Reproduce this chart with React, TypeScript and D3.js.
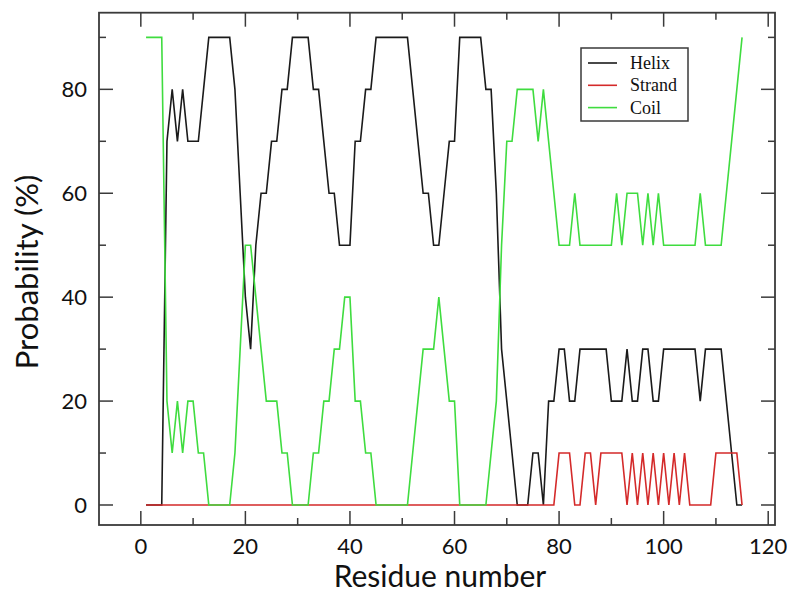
import React from "react";
import * as d3 from "d3";

const residues: number[] = d3.range(1, 116);

const helix: number[] = [
  0, 0, 0, 0, 70, 80, 70, 80, 70, 70, 70, 80, 90, 90, 90, 90, 90, 80, 60, 40,
  30, 50, 60, 60, 70, 70, 80, 80, 90, 90, 90, 90, 80, 80, 70, 60, 60, 50, 50, 50,
  70, 70, 80, 80, 90, 90, 90, 90, 90, 90, 90, 80, 70, 60, 60, 50, 50, 60, 70, 70,
  90, 90, 90, 90, 90, 80, 80, 60, 30, 20, 10, 0, 0, 0, 10, 10, 0, 20, 20, 30,
  30, 20, 20, 30, 30, 30, 30, 30, 30, 20, 20, 20, 30, 20, 20, 30, 30, 20, 20, 30,
  30, 30, 30, 30, 30, 30, 20, 30, 30, 30, 30, 20, 10, 0, 0,
];

const strand: number[] = [
  0, 0, 0, 0, 0, 0, 0, 0, 0, 0, 0, 0, 0, 0, 0, 0, 0, 0, 0, 0,
  0, 0, 0, 0, 0, 0, 0, 0, 0, 0, 0, 0, 0, 0, 0, 0, 0, 0, 0, 0,
  0, 0, 0, 0, 0, 0, 0, 0, 0, 0, 0, 0, 0, 0, 0, 0, 0, 0, 0, 0,
  0, 0, 0, 0, 0, 0, 0, 0, 0, 0, 0, 0, 0, 0, 0, 0, 0, 0, 0, 10,
  10, 10, 0, 0, 10, 10, 0, 10, 10, 10, 10, 10, 0, 10, 0, 10, 0, 10, 0, 10,
  0, 10, 0, 10, 0, 0, 0, 0, 0, 10, 10, 10, 10, 10, 0,
];

const coil: number[] = [
  90, 90, 90, 90, 20, 10, 20, 10, 20, 20, 10, 10, 0, 0, 0, 0, 0, 10, 30, 50,
  50, 40, 30, 20, 20, 20, 10, 10, 0, 0, 0, 0, 10, 10, 20, 20, 30, 30, 40, 40,
  20, 20, 10, 10, 0, 0, 0, 0, 0, 0, 0, 10, 20, 30, 30, 30, 40, 30, 20, 20,
  0, 0, 0, 0, 0, 0, 10, 20, 50, 70, 70, 80, 80, 80, 80, 70, 80, 70, 60, 50,
  50, 50, 60, 50, 50, 50, 50, 50, 50, 50, 60, 50, 60, 60, 60, 50, 60, 50, 60, 50,
  50, 50, 50, 50, 50, 50, 60, 50, 50, 50, 50, 60, 70, 80, 90,
];

const seriesNames: string[] = ["Helix", "Strand", "Coil"];
const seriesColors: string[] = ["#1a1a1a", "#d42a2a", "#3fdc3f"];

const xMajor: number[] = [0, 20, 40, 60, 80, 100, 120];
const xMinor: number[] = [10, 30, 50, 70, 90, 110];
const yMajor: number[] = [0, 20, 40, 60, 80];
const yMinor: number[] = [10, 30, 50, 70, 90];

const W = 787;
const H = 593;
const L = 99;
const R = 775;
const T = 12.7;
const B = 525;

export default function App() {
  const x = d3.scaleLinear().domain([-8, 121.3]).range([L, R]);
  const y = d3.scaleLinear().domain([-3.85, 94.75]).range([B, T]);
  const series = [helix, strand, coil];
  const line = d3
    .line<number>()
    .x((_, i) => x(residues[i]))
    .y((v) => y(v));

  const frame = "#3a3a3a";
  const sans = "Lato, 'Open Sans', sans-serif";
  const majorLen = 14;
  const minorLen = 7;

  return (
    <svg width={W} height={H} style={{ position: "absolute", left: 0, top: 0, background: "#fff" }}>
      <rect x={0} y={0} width={W} height={H} fill="#fff" />
      {[0, 1, 2].map((k) => (
        <path
          key={seriesNames[k]}
          d={line(series[k]) || ""}
          fill="none"
          stroke={seriesColors[k]}
          strokeWidth={1.6}
          strokeLinejoin="miter"
        />
      ))}
      <rect x={L} y={T} width={R - L} height={B - T} fill="none" stroke={frame} strokeWidth={1.8} />
      {xMajor.map((v) => (
        <g key={"xM" + v}>
          <line x1={x(v)} x2={x(v)} y1={B} y2={B - majorLen} stroke={frame} strokeWidth={1.5} />
          <line x1={x(v)} x2={x(v)} y1={T} y2={T + majorLen} stroke={frame} strokeWidth={1.5} />
          <text x={x(v)} y={554} textAnchor="middle" fontFamily={sans} fontSize={22} fill="#111">
            {v}
          </text>
        </g>
      ))}
      {xMinor.map((v) => (
        <g key={"xm" + v}>
          <line x1={x(v)} x2={x(v)} y1={B} y2={B - minorLen} stroke={frame} strokeWidth={1.5} />
          <line x1={x(v)} x2={x(v)} y1={T} y2={T + minorLen} stroke={frame} strokeWidth={1.5} />
        </g>
      ))}
      {yMajor.map((v) => (
        <g key={"yM" + v}>
          <line x1={L} x2={L + majorLen} y1={y(v)} y2={y(v)} stroke={frame} strokeWidth={1.5} />
          <line x1={R} x2={R - majorLen} y1={y(v)} y2={y(v)} stroke={frame} strokeWidth={1.5} />
          <text x={87} y={y(v)} dy="0.36em" textAnchor="end" fontFamily={sans} fontSize={22} fill="#111">
            {v}
          </text>
        </g>
      ))}
      {yMinor.map((v) => (
        <g key={"ym" + v}>
          <line x1={L} x2={L + minorLen} y1={y(v)} y2={y(v)} stroke={frame} strokeWidth={1.5} />
          <line x1={R} x2={R - minorLen} y1={y(v)} y2={y(v)} stroke={frame} strokeWidth={1.5} />
        </g>
      ))}
      <text x={440} y={587} textAnchor="middle" fontFamily={sans} fontSize={30} fill="#111">
        Residue number
      </text>
      <text
        transform="translate(38,272) rotate(-90)"
        textAnchor="middle"
        fontFamily={sans}
        fontSize={31}
        fill="#111"
      >
        Probability (%)
      </text>
      <rect x={581} y={48} width={107} height={73} fill="#fff" stroke={frame} strokeWidth={1.5} />
      {seriesNames.map((n, i) => (
        <g key={"lg" + n}>
          <line x1={588} x2={617} y1={63 + i * 22.3} y2={63 + i * 22.3} stroke={seriesColors[i]} strokeWidth={1.6} />
          <text x={630} y={63 + i * 22.3} dy="0.33em" fontFamily="'Liberation Serif', 'Times New Roman', serif" fontSize={18} fill="#111">
            {n}
          </text>
        </g>
      ))}
    </svg>
  );
}
